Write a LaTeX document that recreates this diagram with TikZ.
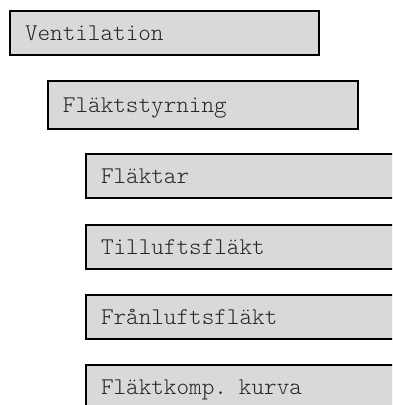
\documentclass[tikz,border=0pt]{standalone}
\usepackage{fontspec}
\setmonofont{Latin Modern Mono Light}
\definecolor{boxgray}{HTML}{D9D9D9}
\definecolor{labelink}{HTML}{262626}
\begin{document}
\begin{tikzpicture}[x=1pt, y=-1pt,
  menubox/.style={draw=black, fill=boxgray, line width=2pt,
    anchor=north west, inner xsep=15pt, inner ysep=0pt,
    align=left, text=labelink,
    font=\ttfamily\fontsize{24}{24}\selectfont,
    text height=15pt, text depth=0pt, minimum height=44pt},
  wide/.style={text width=290pt}]
\useasboundingbox (0,0) rectangle (392,405);
\clip (0,0) rectangle (392,405);

% menu hierarchy
\node[menubox, text width=279pt] (ventilation) at (9,10) {Ventilation};
\node[menubox, text width=280pt, minimum height=48pt] (styrning) at (47,80) {Fläktstyrning};
\node[menubox, wide] (flaktar) at (85,153) {Fläktar};
\node[menubox, wide] (tilluft) at (85,224) {Tilluftsfläkt};
\node[menubox, wide] (franluft) at (85,294) {Frånluftsfläkt};
\node[menubox, wide] (kurva) at (85,364) {Fläktkomp. kurva};
\end{tikzpicture}
\end{document}
